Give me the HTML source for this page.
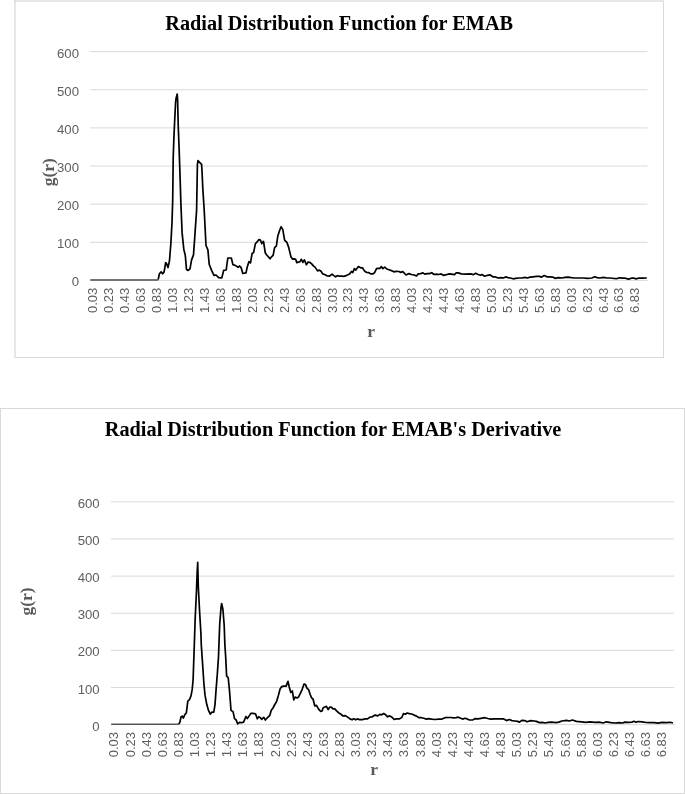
<!DOCTYPE html>
<html><head><meta charset="utf-8"><title>Radial Distribution Function</title>
<style>
html,body{margin:0;padding:0;background:#fff;width:685px;height:794px;overflow:hidden}
svg{display:block;will-change:transform}
.yl{font-family:"Liberation Sans",sans-serif;font-size:13.2px;fill:#5e5e5e;text-anchor:end}
.xl{font-family:"Liberation Sans",sans-serif;font-size:13.0px;fill:#5e5e5e;text-anchor:end}
.tt{font-family:"Liberation Serif",serif;font-weight:bold;font-size:20.3px;fill:#000}
.at{font-family:"Liberation Serif",serif;font-weight:bold;font-size:17.5px;fill:#595959}
</style></head>
<body>
<svg width="685" height="794" viewBox="0 0 685 794">
<rect width="685" height="794" fill="#fff"/>
<rect x="14" y="0" width="650" height="358" fill="#fff"/>
<line x1="15" x2="15" y1="0" y2="358" stroke="#cfcfcf" stroke-width="1"/>
<line x1="14.5" x2="664" y1="1" y2="1" stroke="#cfcfcf" stroke-width="1"/>
<line x1="663.5" x2="663.5" y1="1.5" y2="358" stroke="#d9d9d9" stroke-width="1"/>
<line x1="15.5" x2="663" y1="357.5" y2="357.5" stroke="#d9d9d9" stroke-width="1"/>
<line x1="90" x2="647.5" y1="280.40" y2="280.40" stroke="#d9d9d9" stroke-width="1"/>
<line x1="90" x2="647.5" y1="242.27" y2="242.27" stroke="#d9d9d9" stroke-width="1"/>
<line x1="90" x2="647.5" y1="204.15" y2="204.15" stroke="#d9d9d9" stroke-width="1"/>
<line x1="90" x2="647.5" y1="166.03" y2="166.03" stroke="#d9d9d9" stroke-width="1"/>
<line x1="90" x2="647.5" y1="127.90" y2="127.90" stroke="#d9d9d9" stroke-width="1"/>
<line x1="90" x2="647.5" y1="89.78" y2="89.78" stroke="#d9d9d9" stroke-width="1"/>
<line x1="90" x2="647.5" y1="51.65" y2="51.65" stroke="#d9d9d9" stroke-width="1"/>
<text x="79.0" y="286.30" class="yl">0</text>
<text x="79.0" y="248.17" class="yl">100</text>
<text x="79.0" y="210.05" class="yl">200</text>
<text x="79.0" y="171.93" class="yl">300</text>
<text x="79.0" y="133.80" class="yl">400</text>
<text x="79.0" y="95.68" class="yl">500</text>
<text x="79.0" y="57.55" class="yl">600</text>
<text transform="translate(97.45,287.70) rotate(-90)" class="xl">0.03</text>
<text transform="translate(113.39,287.70) rotate(-90)" class="xl">0.23</text>
<text transform="translate(129.33,287.70) rotate(-90)" class="xl">0.43</text>
<text transform="translate(145.27,287.70) rotate(-90)" class="xl">0.63</text>
<text transform="translate(161.21,287.70) rotate(-90)" class="xl">0.83</text>
<text transform="translate(177.15,287.70) rotate(-90)" class="xl">1.03</text>
<text transform="translate(193.09,287.70) rotate(-90)" class="xl">1.23</text>
<text transform="translate(209.03,287.70) rotate(-90)" class="xl">1.43</text>
<text transform="translate(224.97,287.70) rotate(-90)" class="xl">1.63</text>
<text transform="translate(240.91,287.70) rotate(-90)" class="xl">1.83</text>
<text transform="translate(256.85,287.70) rotate(-90)" class="xl">2.03</text>
<text transform="translate(272.79,287.70) rotate(-90)" class="xl">2.23</text>
<text transform="translate(288.73,287.70) rotate(-90)" class="xl">2.43</text>
<text transform="translate(304.67,287.70) rotate(-90)" class="xl">2.63</text>
<text transform="translate(320.61,287.70) rotate(-90)" class="xl">2.83</text>
<text transform="translate(336.55,287.70) rotate(-90)" class="xl">3.03</text>
<text transform="translate(352.49,287.70) rotate(-90)" class="xl">3.23</text>
<text transform="translate(368.43,287.70) rotate(-90)" class="xl">3.43</text>
<text transform="translate(384.37,287.70) rotate(-90)" class="xl">3.63</text>
<text transform="translate(400.31,287.70) rotate(-90)" class="xl">3.83</text>
<text transform="translate(416.25,287.70) rotate(-90)" class="xl">4.03</text>
<text transform="translate(432.19,287.70) rotate(-90)" class="xl">4.23</text>
<text transform="translate(448.13,287.70) rotate(-90)" class="xl">4.43</text>
<text transform="translate(464.07,287.70) rotate(-90)" class="xl">4.63</text>
<text transform="translate(480.01,287.70) rotate(-90)" class="xl">4.83</text>
<text transform="translate(495.95,287.70) rotate(-90)" class="xl">5.03</text>
<text transform="translate(511.89,287.70) rotate(-90)" class="xl">5.23</text>
<text transform="translate(527.83,287.70) rotate(-90)" class="xl">5.43</text>
<text transform="translate(543.77,287.70) rotate(-90)" class="xl">5.63</text>
<text transform="translate(559.71,287.70) rotate(-90)" class="xl">5.83</text>
<text transform="translate(575.65,287.70) rotate(-90)" class="xl">6.03</text>
<text transform="translate(591.59,287.70) rotate(-90)" class="xl">6.23</text>
<text transform="translate(607.53,287.70) rotate(-90)" class="xl">6.43</text>
<text transform="translate(623.47,287.70) rotate(-90)" class="xl">6.63</text>
<text transform="translate(639.41,287.70) rotate(-90)" class="xl">6.83</text>
<line x1="90.3" x2="158.2" y1="279.9" y2="279.9" stroke="#727272" stroke-width="2"/>
<polyline points="158.2,279.5 159.4,273.8 161.1,271.9 162.6,273.8 164.1,271.9 165.7,262.5 166.6,263.7 168.0,267.5 169.5,260.6 170.8,244.2 172.0,222.8 172.7,200.0 173.2,157.8 173.9,137.9 174.8,118.0 175.6,102.2 176.1,98.2 177.2,94.0 177.6,99.5 178.2,124.7 179.2,151.1 180.1,177.6 180.9,203.9 182.1,232.9 183.8,249.2 185.3,255.5 186.5,269.4 188.2,270.4 190.0,268.8 191.6,259.9 193.5,254.9 194.7,237.9 196.6,210.2 197.4,164.4 198.0,160.7 199.6,162.4 201.6,164.4 202.0,171.0 202.9,190.0 204.2,210.2 206.0,245.5 207.9,249.9 209.2,264.3 211.7,270.6 214.0,275.4 216.1,275.0 218.6,277.6 221.8,277.9 223.7,270.4 226.2,270.0 227.8,258.0 229.7,258.0 231.4,258.2 232.9,264.6 234.9,265.2 236.7,266.4 238.1,267.3 239.6,266.0 241.1,267.6 242.8,273.4 244.3,273.2 246.0,272.8 247.4,266.4 248.9,261.7 250.5,262.9 252.1,253.5 253.6,252.6 255.4,243.6 257.1,241.9 258.9,239.5 260.4,240.1 261.8,243.6 262.6,242.4 263.5,241.3 265.3,253.0 267.0,255.3 270.0,258.8 271.5,256.8 273.1,255.3 274.6,247.7 276.4,245.9 277.8,236.0 279.7,230.2 281.1,226.7 282.8,229.6 284.6,240.1 286.9,242.4 288.6,247.1 291.0,257.0 292.7,259.1 294.5,258.8 295.7,259.4 296.8,262.6 299.2,261.9 300.0,261.6 301.4,259.3 302.9,262.4 304.4,259.9 306.4,264.8 307.9,262.2 309.9,262.4 311.7,263.9 313.4,265.9 315.2,267.4 317.5,270.9 319.3,270.1 321.0,271.3 322.8,273.9 325.1,274.8 327.4,276.0 329.2,276.2 332.1,274.2 333.9,275.6 335.6,276.8 337.4,275.6 339.7,276.2 342.0,276.2 343.8,276.4 346.1,275.6 347.9,274.8 349.6,273.9 351.4,271.5 352.8,272.5 354.3,268.6 355.8,270.1 358.4,266.6 360.7,267.8 362.5,267.8 364.2,270.6 366.6,272.5 368.9,272.7 370.7,273.9 373.0,273.9 374.7,272.5 376.5,268.6 378.2,268.3 379.8,268.4 381.3,266.6 382.9,268.6 384.8,267.1 386.8,269.0 389.1,269.8 391.4,270.6 393.8,271.8 396.1,271.3 399.0,271.5 400.8,272.5 402.5,271.5 404.3,273.1 406.0,275.0 409.0,273.6 411.3,274.5 414.2,275.0 416.5,276.0 418.3,273.9 420.6,273.6 423.0,272.9 424.7,274.1 427.0,273.6 429.4,273.6 431.7,272.7 434.1,274.5 436.4,274.1 438.7,274.5 441.1,273.9 443.4,275.3 446.3,274.7 449.2,273.9 451.6,274.1 454.5,274.6 456.2,272.9 458.3,272.9 461.3,273.9 465.3,274.1 470.6,273.9 473.5,274.6 475.6,273.3 478.2,274.5 480.5,275.3 481.9,274.6 484.6,276.2 487.5,275.3 489.9,274.8 492.8,276.8 495.1,276.8 498.0,278.0 501.0,277.6 503.3,278.0 505.6,276.9 508.0,277.6 510.3,278.0 513.2,278.8 515.6,278.3 519.1,278.0 522.0,278.0 524.9,277.4 527.2,278.0 530.2,277.1 533.1,276.8 536.3,276.4 539.3,276.4 541.6,277.1 544.3,275.6 546.8,276.8 549.8,276.8 552.7,277.1 555.0,278.3 558.5,277.6 562.0,278.0 565.0,277.4 567.9,277.1 571.4,277.6 574.9,278.0 578.4,278.0 583.1,278.0 587.7,278.3 591.8,278.0 594.7,276.8 597.1,277.6 600.0,278.0 603.5,277.3 607.0,278.0 610.5,278.0 614.0,278.5 616.6,278.7 619.3,277.8 622.8,278.2 625.4,278.2 628.5,279.1 631.5,278.2 633.7,278.0 635.9,278.9 638.5,278.2 642.0,278.2 646.8,278.0" fill="none" stroke="#000" stroke-width="1.7" stroke-linejoin="round" stroke-linecap="butt"/>
<text x="165.3" y="30.1" class="tt">Radial Distribution Function for EMAB</text>
<text transform="translate(54.1,186.3) rotate(-90)" class="at">g(r)</text>
<text x="371.2" y="337" class="at" text-anchor="middle">r</text>
<rect x="0.5" y="408.5" width="684" height="385" fill="#fff" stroke="#d9d9d9" stroke-width="1"/>
<line x1="111" x2="674.2" y1="724.60" y2="724.60" stroke="#d9d9d9" stroke-width="1"/>
<line x1="111" x2="674.2" y1="687.48" y2="687.48" stroke="#d9d9d9" stroke-width="1"/>
<line x1="111" x2="674.2" y1="650.35" y2="650.35" stroke="#d9d9d9" stroke-width="1"/>
<line x1="111" x2="674.2" y1="613.23" y2="613.23" stroke="#d9d9d9" stroke-width="1"/>
<line x1="111" x2="674.2" y1="576.10" y2="576.10" stroke="#d9d9d9" stroke-width="1"/>
<line x1="111" x2="674.2" y1="538.98" y2="538.98" stroke="#d9d9d9" stroke-width="1"/>
<line x1="111" x2="674.2" y1="501.85" y2="501.85" stroke="#d9d9d9" stroke-width="1"/>
<text x="99.7" y="730.70" class="yl">0</text>
<text x="99.7" y="693.58" class="yl">100</text>
<text x="99.7" y="656.45" class="yl">200</text>
<text x="99.7" y="619.33" class="yl">300</text>
<text x="99.7" y="582.20" class="yl">400</text>
<text x="99.7" y="545.08" class="yl">500</text>
<text x="99.7" y="507.95" class="yl">600</text>
<text transform="translate(118.45,732.00) rotate(-90)" class="xl">0.03</text>
<text transform="translate(134.56,732.00) rotate(-90)" class="xl">0.23</text>
<text transform="translate(150.67,732.00) rotate(-90)" class="xl">0.43</text>
<text transform="translate(166.78,732.00) rotate(-90)" class="xl">0.63</text>
<text transform="translate(182.89,732.00) rotate(-90)" class="xl">0.83</text>
<text transform="translate(199.00,732.00) rotate(-90)" class="xl">1.03</text>
<text transform="translate(215.11,732.00) rotate(-90)" class="xl">1.23</text>
<text transform="translate(231.22,732.00) rotate(-90)" class="xl">1.43</text>
<text transform="translate(247.33,732.00) rotate(-90)" class="xl">1.63</text>
<text transform="translate(263.44,732.00) rotate(-90)" class="xl">1.83</text>
<text transform="translate(279.55,732.00) rotate(-90)" class="xl">2.03</text>
<text transform="translate(295.66,732.00) rotate(-90)" class="xl">2.23</text>
<text transform="translate(311.77,732.00) rotate(-90)" class="xl">2.43</text>
<text transform="translate(327.88,732.00) rotate(-90)" class="xl">2.63</text>
<text transform="translate(343.99,732.00) rotate(-90)" class="xl">2.83</text>
<text transform="translate(360.10,732.00) rotate(-90)" class="xl">3.03</text>
<text transform="translate(376.21,732.00) rotate(-90)" class="xl">3.23</text>
<text transform="translate(392.32,732.00) rotate(-90)" class="xl">3.43</text>
<text transform="translate(408.43,732.00) rotate(-90)" class="xl">3.63</text>
<text transform="translate(424.54,732.00) rotate(-90)" class="xl">3.83</text>
<text transform="translate(440.65,732.00) rotate(-90)" class="xl">4.03</text>
<text transform="translate(456.76,732.00) rotate(-90)" class="xl">4.23</text>
<text transform="translate(472.87,732.00) rotate(-90)" class="xl">4.43</text>
<text transform="translate(488.98,732.00) rotate(-90)" class="xl">4.63</text>
<text transform="translate(505.09,732.00) rotate(-90)" class="xl">4.83</text>
<text transform="translate(521.20,732.00) rotate(-90)" class="xl">5.03</text>
<text transform="translate(537.31,732.00) rotate(-90)" class="xl">5.23</text>
<text transform="translate(553.42,732.00) rotate(-90)" class="xl">5.43</text>
<text transform="translate(569.53,732.00) rotate(-90)" class="xl">5.63</text>
<text transform="translate(585.64,732.00) rotate(-90)" class="xl">5.83</text>
<text transform="translate(601.75,732.00) rotate(-90)" class="xl">6.03</text>
<text transform="translate(617.86,732.00) rotate(-90)" class="xl">6.23</text>
<text transform="translate(633.97,732.00) rotate(-90)" class="xl">6.43</text>
<text transform="translate(650.08,732.00) rotate(-90)" class="xl">6.63</text>
<text transform="translate(666.19,732.00) rotate(-90)" class="xl">6.83</text>
<line x1="111.2" x2="178.8" y1="724.3" y2="724.3" stroke="#555555" stroke-width="1.6"/>
<polyline points="178.8,724.2 179.9,722.1 181.1,716.8 182.3,716.2 183.4,718.0 184.6,715.1 186.4,712.7 187.8,701.1 189.3,699.9 191.0,695.8 192.2,689.4 193.1,680.0 193.7,662.5 194.3,645.0 195.2,618.0 196.4,592.8 197.1,573.9 197.7,562.3 198.3,586.5 199.6,611.7 200.9,633.1 201.3,645.0 202.5,662.5 203.9,683.5 205.0,695.2 206.8,704.6 208.5,710.4 210.3,714.1 211.8,712.2 213.8,712.2 215.0,704.6 216.1,689.4 217.3,674.2 218.5,656.7 219.7,624.3 221.0,607.9 221.6,603.5 222.9,609.2 224.2,625.5 224.9,645.0 225.8,659.0 226.6,675.9 228.2,677.7 229.6,691.7 231.0,710.4 233.1,711.8 234.5,718.6 236.0,719.7 237.7,723.8 239.5,722.3 241.5,722.7 243.6,722.1 245.9,716.5 247.3,718.6 249.1,716.1 250.8,713.4 253.2,713.4 255.5,713.8 257.3,718.8 258.8,716.7 260.2,717.6 261.9,719.3 263.7,717.3 265.4,720.0 267.8,717.3 269.8,715.3 271.3,710.3 273.0,708.0 274.8,704.5 276.5,701.8 278.3,695.7 280.0,689.3 281.4,686.9 283.5,686.1 286.1,686.1 288.0,681.4 289.1,686.4 290.8,692.4 292.3,691.0 293.8,699.8 295.2,697.1 297.0,698.0 298.5,697.1 300.1,693.9 302.2,689.3 304.0,684.0 305.5,684.6 306.9,688.1 308.6,689.6 310.2,694.5 311.6,697.8 313.0,699.0 314.8,706.0 316.5,705.3 318.6,709.1 320.7,711.5 322.1,710.9 323.2,707.8 324.9,707.0 326.4,706.3 328.1,709.5 329.9,707.0 331.6,707.4 333.1,708.9 334.8,708.9 336.6,710.9 338.9,713.0 340.7,714.0 342.8,715.9 345.4,715.6 347.7,717.1 350.0,718.9 352.1,719.8 353.8,718.6 355.6,719.8 357.3,718.9 359.4,719.6 362.3,719.6 365.2,718.9 367.5,718.9 369.9,717.1 372.2,716.8 375.1,715.1 377.8,715.9 379.8,714.4 381.6,714.8 383.7,713.6 385.7,714.8 387.6,716.8 389.7,715.9 391.8,717.1 394.2,719.5 396.2,718.9 399.1,718.9 401.8,717.5 403.5,713.6 405.3,714.2 407.2,713.0 409.3,713.6 411.7,714.0 414.0,715.1 416.9,716.3 418.7,717.7 421.6,717.7 423.9,718.3 426.3,719.1 428.6,718.6 431.5,719.1 435.0,719.5 438.5,719.1 442.0,719.1 445.0,717.7 447.9,717.5 450.8,717.5 453.7,717.9 456.1,717.7 458.4,717.2 460.7,718.3 463.1,719.1 464.8,718.3 467.2,718.9 469.5,720.0 473.0,719.8 475.3,718.6 478.0,718.9 480.9,718.3 485.0,717.7 487.9,718.5 490.8,719.2 494.4,718.9 499.0,718.9 503.7,718.9 506.6,720.6 509.3,719.5 511.9,720.6 514.8,721.0 517.7,721.4 519.5,722.1 521.8,720.3 524.7,720.6 527.1,721.8 530.6,720.6 534.1,721.0 536.4,721.4 539.3,722.6 542.2,722.4 545.2,723.0 548.1,722.4 551.6,722.1 556.0,722.6 558.9,722.1 561.8,721.0 566.5,720.4 569.4,721.0 572.4,720.0 576.4,721.4 581.7,721.8 585.8,722.4 589.9,721.8 595.1,722.4 599.2,722.1 603.3,723.0 606.2,721.8 610.9,722.6 615.0,723.0 619.1,722.6 622.6,723.0 624.9,722.1 628.4,722.4 631.9,722.1 634.0,721.3 636.0,722.3 638.0,721.5 642.0,721.9 646.1,722.5 650.1,722.7 654.1,722.7 658.1,723.1 662.1,722.3 666.1,722.7 670.2,722.3 673.0,723.0" fill="none" stroke="#000" stroke-width="1.7" stroke-linejoin="round" stroke-linecap="butt"/>
<text x="104.8" y="435.8" class="tt">Radial Distribution Function for EMAB's Derivative</text>
<text transform="translate(31.6,615.5) rotate(-90)" class="at">g(r)</text>
<text x="374.1" y="774.7" class="at" text-anchor="middle">r</text>
</svg>
</body></html>
